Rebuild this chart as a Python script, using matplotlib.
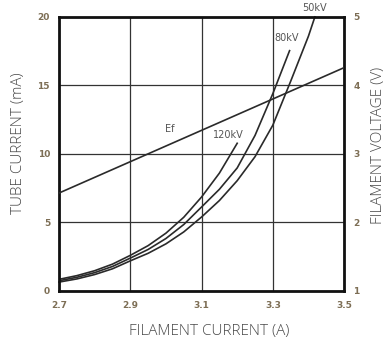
import matplotlib
matplotlib.use('Agg')
import matplotlib.pyplot as plt

# === Data ===
# filament current (A) vs tube current (mA) for each tube voltage
x_120 = [2.7, 2.75, 2.8, 2.85, 2.9, 2.95, 3.0, 3.05, 3.1, 3.15, 3.2]
y_120 = [0.85, 1.12, 1.48, 1.96, 2.6, 3.31, 4.22, 5.38, 6.86, 8.6, 10.78]

x_80 = [2.7, 2.75, 2.8, 2.85, 2.9, 2.95, 3.0, 3.05, 3.1, 3.15, 3.2, 3.25, 3.3, 3.347]
y_80 = [0.75, 1.0, 1.34, 1.79, 2.4, 3.03, 3.83, 4.85, 6.13, 7.42, 8.98, 11.35, 14.4, 17.54]

x_50 = [2.7, 2.75, 2.8, 2.85, 2.9, 2.95, 3.0, 3.05, 3.1, 3.15, 3.2, 3.25, 3.3, 3.35, 3.4, 3.418]
y_50 = [0.65, 0.88, 1.2, 1.62, 2.2, 2.75, 3.44, 4.31, 5.4, 6.6, 8.05, 9.8, 12.1, 15.3, 18.6, 20.0]

# filament voltage (V), right axis
x_ef = [2.7, 3.5]
y_ef = [2.43, 4.26]

x_ticks = [2.7, 2.9, 3.1, 3.3, 3.5]
x_ticklabels = ['2.7', '2.9', '3.1', '3.3', '3.5']
y_ticks = [0, 5, 10, 15, 20]
v_ticks = [1, 2, 3, 4, 5]

curve_labels = ['120kV', '80kV', '50kV']

# === Plot ===
line_col = '#2a2a2a'
tick_col = '#7d6e55'
label_col = '#4a4a4a'

fig = plt.figure(figsize=(3.91, 3.46), dpi=100)
ax = fig.add_axes([0.151, 0.159, 0.729, 0.792])

ax.plot(x_120, y_120, color=line_col, lw=1.2)
ax.plot(x_80, y_80, color=line_col, lw=1.2)
ax.plot(x_50, y_50, color=line_col, lw=1.2, clip_on=False)

ax.set_xlim(2.7, 3.5)
ax.set_ylim(0, 20)
ax.set_xticks(x_ticks)
ax.set_xticklabels(x_ticklabels)
ax.set_yticks(y_ticks)
ax.grid(True, color='#333333', lw=0.9)
ax.set_axisbelow(True)
for s in ax.spines.values():
    s.set_linewidth(2.0)
    s.set_color('#111111')
ax.tick_params(length=0, labelsize=6.5, labelcolor=tick_col)
ax.tick_params(axis='x', pad=7)
ax.tick_params(axis='y', pad=6.5)
for t in ax.get_xticklabels() + ax.get_yticklabels():
    t.set_fontweight('bold')

ax2 = ax.twinx()
ax2.plot(x_ef, y_ef, color=line_col, lw=1.2)
ax2.set_ylim(1, 5)
ax2.set_yticks(v_ticks)
ax2.tick_params(length=0, pad=6.5, labelsize=6.5, labelcolor=tick_col)
for t in ax2.get_yticklabels():
    t.set_fontweight('bold')
for s in ax2.spines.values():
    s.set_visible(False)

# curve labels
lab_kw = dict(fontsize=7, color='#555555', ha='center', va='center')
ax.text(3.011, 11.8, 'Ef', **lab_kw)
ax.text(3.174, 11.4, curve_labels[0], **lab_kw)
ax.text(3.34, 18.5, curve_labels[1], **lab_kw)
ax.text(3.416, 20.65, curve_labels[2], clip_on=False, **lab_kw)

# axis titles
ttl_kw = dict(fontsize=11, color=label_col, family='Open Sans',
              fontweight='light', ha='center', va='center')
fig.text(0.535, 0.043, 'FILAMENT CURRENT (A)', **ttl_kw)
fig.text(0.047, 0.585, 'TUBE CURRENT (mA)', rotation=90, **ttl_kw)
fig.text(0.967, 0.581, 'FILAMENT VOLTAGE (V)', rotation=90, **ttl_kw)

fig.savefig('out.png', dpi=100)
